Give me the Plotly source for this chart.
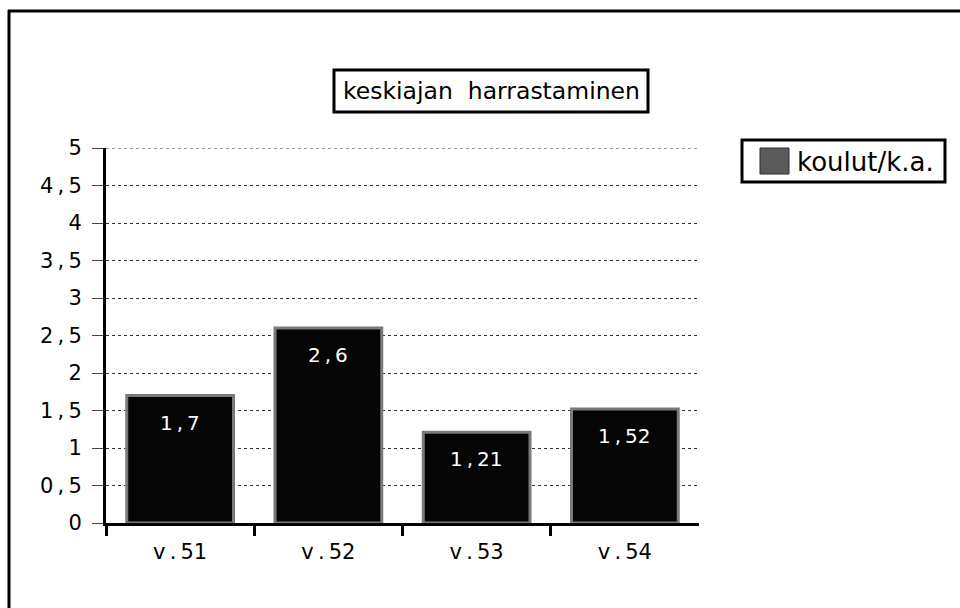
import plotly.graph_objects as go

# Data
categories = ["v.51", "v.52", "v.53", "v.54"]
values = [1.7, 2.6, 1.21, 1.52]
series_name = "koulut/k.a."
chart_title = "keskiajan harrastaminen"
y_ticks = [0, 0.5, 1, 1.5, 2, 2.5, 3, 3.5, 4, 4.5, 5]

W, H = 960, 608
L, R, T, B = 106, 261, 148, 85
PW, PH = W - L - R, H - T - B

FONT = "DejaVu Sans"
THIN = "\u2009"


def fmt(v):
    s = f"{v:g}"
    return s.replace(".", THIN + "," + THIN)


def cat_label(c):
    return c.replace(".", THIN + "." + THIN)


def px(x):
    return (x - L) / PW


def py(y):
    return (H - B - y) / PH


fig = go.Figure()
fig.add_trace(go.Bar(
    x=categories, y=values, name=series_name,
    marker=dict(color="#050505", line=dict(color="#7a7a7a", width=3)),
    showlegend=False,
))

# Value labels inside the top of each bar
annotations = []
for c, v in zip(categories, values):
    annotations.append(dict(
        x=c, y=v, xref="x", yref="y", text=fmt(v), showarrow=False,
        yanchor="top", yshift=-13,
        font=dict(family=FONT, size=20, color="white"),
    ))

# Title box text
annotations.append(dict(
    x=px(491), y=py(91), xref="paper", yref="paper",
    text=chart_title.replace(" ", "\u00a0 "), showarrow=False,
    xanchor="center", yanchor="middle",
    font=dict(family=FONT, size=23.5, color="black"),
))
# Legend text
annotations.append(dict(
    x=px(795), y=py(162), xref="paper", yref="paper",
    text=series_name, showarrow=False,
    xanchor="left", yanchor="middle",
    font=dict(family=FONT, size=26, color="black"),
))

shapes = [
    # outer frame (top and left edges)
    dict(type="line", xref="paper", yref="paper",
         x0=px(8), x1=px(960), y0=py(11), y1=py(11),
         line=dict(color="black", width=3)),
    dict(type="line", xref="paper", yref="paper",
         x0=px(9), x1=px(9), y0=py(10), y1=py(608),
         line=dict(color="black", width=3)),
    # title box
    dict(type="rect", xref="paper", yref="paper",
         x0=px(334), x1=px(648), y0=py(112), y1=py(70),
         line=dict(color="black", width=3)),
    # legend box
    dict(type="rect", xref="paper", yref="paper",
         x0=px(742), x1=px(945), y0=py(182), y1=py(140),
         line=dict(color="black", width=3)),
    # legend swatch
    dict(type="rect", xref="paper", yref="paper",
         x0=px(760), x1=px(789), y0=py(174), y1=py(148),
         fillcolor="#5a5a5a", line=dict(color="#2a2a2a", width=1)),
    # top gridline at the end of the value range
    dict(type="line", xref="paper", yref="y",
         x0=0, x1=1, y0=y_ticks[-1], y1=y_ticks[-1],
         line=dict(color="#333", width=1, dash="dot")),
]

fig.update_layout(
    width=W, height=H,
    margin=dict(l=L, r=R, t=T, b=B),
    paper_bgcolor="white", plot_bgcolor="white",
    bargap=0.28,
    showlegend=False,
    annotations=annotations,
    shapes=shapes,
    font=dict(family=FONT, size=20, color="black"),
    xaxis=dict(
        type="category", showline=True, linecolor="black", linewidth=3,
        ticks="", showgrid=False, zeroline=False,
        tickmode="array", tickvals=categories,
        ticktext=[cat_label(c) for c in categories],
        tickfont=dict(family=FONT, size=21, color="black"),
        ticklabelstandoff=8,
    ),
    xaxis2=dict(
        overlaying="x", anchor="y", range=[-0.5, len(categories) - 0.5],
        tickmode="array", tickvals=[-0.5, 0.5, 1.5, 2.5],
        ticks="outside", ticklen=12, tickwidth=3, tickcolor="black",
        showticklabels=False, showline=False, showgrid=False, zeroline=False,
    ),
    yaxis=dict(
        range=[0, 5], tickmode="array", tickvals=y_ticks,
        ticktext=[fmt(v) for v in y_ticks],
        showline=True, linecolor="black", linewidth=3,
        ticks="outside", ticklen=11, tickwidth=1, tickcolor="#444",
        showgrid=True, gridcolor="#333", gridwidth=1, griddash="dot",
        zeroline=False, ticklabelstandoff=6,
        tickfont=dict(family=FONT, size=21, color="black"),
    ),
)

# invisible trace so the tick overlay axis is laid out
fig.add_trace(go.Scatter(x=[-0.5, len(categories) - 0.5], y=[0, 0], xaxis="x2",
                         mode="markers", marker=dict(opacity=0),
                         showlegend=False, hoverinfo="skip"))

fig.write_html("out.html")
